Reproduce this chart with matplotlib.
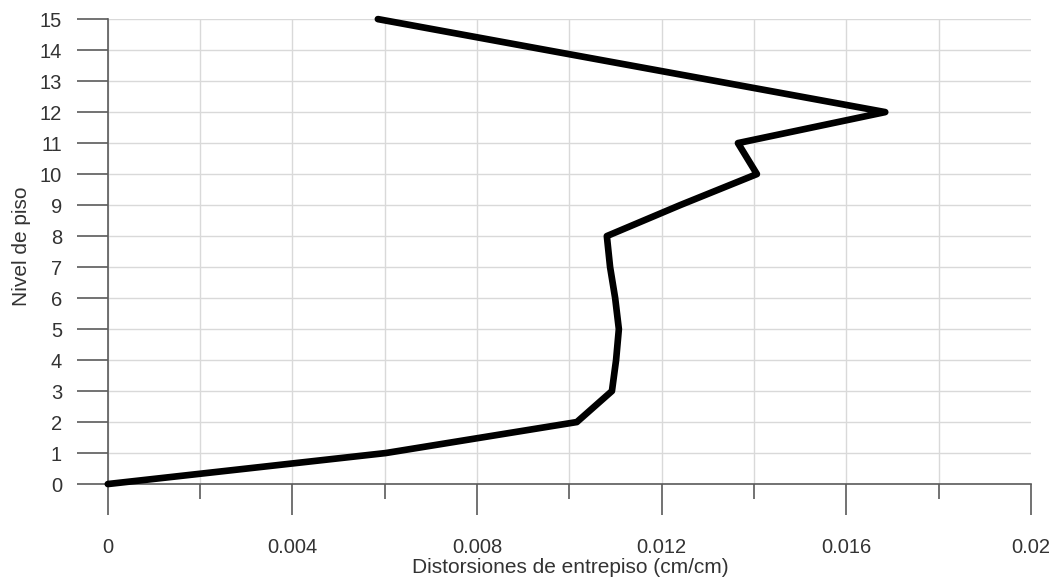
import numpy as np
import matplotlib as mpl
import matplotlib.pyplot as plt
from matplotlib.ticker import MultipleLocator

mpl.rcParams['font.family'] = 'Liberation Sans'

# Distorsiones de entrepiso por nivel
niveles = [0, 1, 2, 3, 4, 5, 6, 7, 8, 9, 10, 11, 12, 13, 14, 15]
distorsiones = [0.0, 0.00602, 0.01016, 0.01092, 0.01101, 0.01107, 0.01099, 0.01088,
                0.01081, 0.0124, 0.01406, 0.01365, 0.01684, 0.01318, 0.00951, 0.00585]
etiquetas_x = ['0', '0.004', '0.008', '0.012', '0.016', '0.02']

fig = plt.figure(figsize=(10.57, 5.79), dpi=100)
ax = fig.add_axes([0.102, 0.164, 0.8735, 0.803])

ax.plot(distorsiones, niveles, color='black', lw=4.8, solid_joinstyle='round',
        solid_capstyle='round', zorder=3, clip_on=False)

ax.set_xlim(0, 0.02)
ax.set_ylim(0, 15)
ax.xaxis.set_minor_locator(MultipleLocator(0.002))
ax.yaxis.set_major_locator(MultipleLocator(1))
ax.set_xticks([0, 0.004, 0.008, 0.012, 0.016, 0.02])
ax.set_xticklabels(etiquetas_x)

ax.grid(True, which='both', color='#d9d9d9', lw=1.0, zorder=0)
ax.set_axisbelow(True)
# sin línea de rejilla vertical en el borde derecho
ax.get_xgridlines()[-1].set_visible(False)

for s in ['top', 'right']:
    ax.spines[s].set_visible(False)
for s in ['left', 'bottom']:
    ax.spines[s].set_color('#5a5a5a')
    ax.spines[s].set_linewidth(1.2)

ax.tick_params(axis='x', which='major', length=22, width=1.2, color='#5a5a5a',
               pad=17, labelsize=14.5, labelcolor='#333333')
ax.tick_params(axis='x', which='minor', length=11, width=1.2, color='#5a5a5a')
ax.tick_params(axis='y', which='major', length=22, width=1.2, color='#5a5a5a',
               pad=11, labelsize=14.5, labelcolor='#333333')

ax.set_xlabel('Distorsiones de entrepiso (cm/cm)', fontsize=15, color='#333333')
ax.set_ylabel('Nivel de piso', fontsize=15, color='#333333')
ax.xaxis.set_label_coords(0.5005, -0.159)
ax.yaxis.set_label_coords(-0.094, 0.512)
ax.yaxis.label.set_va('center')

plt.savefig('out.png', dpi=100)
